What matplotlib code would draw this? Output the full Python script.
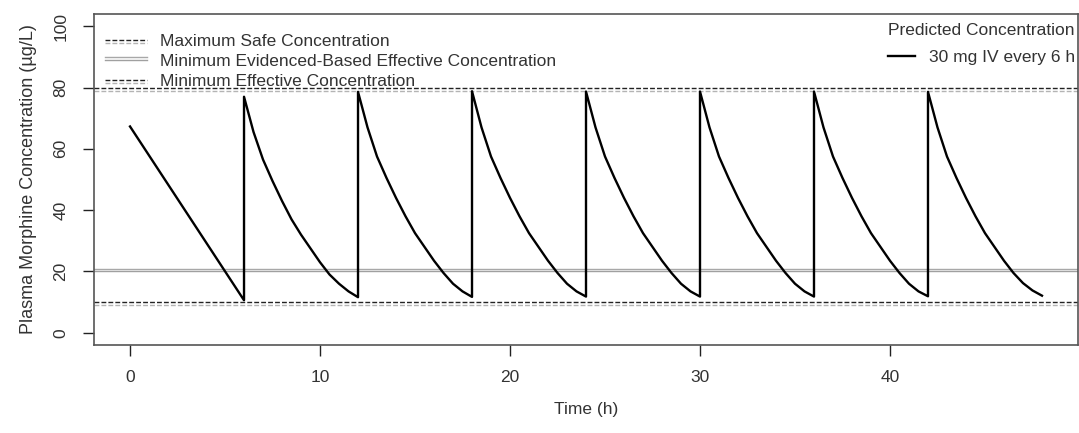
import matplotlib
matplotlib.use("Agg")
import matplotlib.pyplot as plt
import matplotlib.patheffects as pe

plt.rcParams['font.family'] = ['Liberation Sans', 'DejaVu Sans']

# ---- data ----
time_h = [0, 6,
          6, 6.5, 7, 7.5, 8, 8.5, 9, 9.5, 10, 10.5, 11, 11.5, 12,
          12, 12.5, 13, 13.5, 14, 14.5, 15, 15.5, 16, 16.5, 17, 17.5, 18,
          18, 18.5, 19, 19.5, 20, 20.5, 21, 21.5, 22, 22.5, 23, 23.5, 24,
          24, 24.5, 25, 25.5, 26, 26.5, 27, 27.5, 28, 28.5, 29, 29.5, 30,
          30, 30.5, 31, 31.5, 32, 32.5, 33, 33.5, 34, 34.5, 35, 35.5, 36,
          36, 36.5, 37, 37.5, 38, 38.5, 39, 39.5, 40, 40.5, 41, 41.5, 42,
          42, 42.5, 43, 43.5, 44, 44.5, 45, 45.5, 46, 46.5, 47, 47.5, 48]
conc = [67.3, 10.6,
        77.0, 65.5, 56.5, 49.5, 43.0, 37.0, 32.0, 27.5, 23.0, 19.0, 16.0, 13.5, 11.6,
        78.6, 67.0, 57.5, 50.5, 44.0, 38.0, 32.5, 28.0, 23.5, 19.5, 16.0, 13.5, 11.7,
        78.8, 67.0, 57.5, 50.5, 44.0, 38.0, 32.5, 28.0, 23.5, 19.5, 16.0, 13.5, 11.8,
        78.7, 67.0, 57.5, 50.5, 44.0, 38.0, 32.5, 28.0, 23.5, 19.5, 16.0, 13.5, 11.8,
        78.7, 67.0, 57.5, 50.5, 44.0, 38.0, 32.5, 28.0, 23.5, 19.5, 16.0, 13.5, 11.8,
        78.7, 67.0, 57.5, 50.5, 44.0, 38.0, 32.5, 28.0, 23.5, 19.5, 16.0, 13.5, 11.9,
        78.6, 67.0, 57.5, 50.5, 44.0, 38.0, 32.5, 28.0, 23.5, 19.5, 16.2, 13.8, 12.1]

max_safe = 80
min_evidence = 20
min_effective = 10

x_ticks = [0, 10, 20, 30, 40]
y_ticks = [0, 20, 40, 60, 80, 100]

label_max = "Maximum Safe Concentration"
label_evid = "Minimum Evidenced-Based Effective Concentration"
label_eff = "Minimum Effective Concentration"
label_series = "30 mg IV every 6 h"

# ---- figure ----
fig = plt.figure(figsize=(10.79, 4.33), dpi=100)
ax = fig.add_axes([0.0867, 0.2032, 0.9128, 0.7645])

shadow_down = [pe.SimpleLineShadow(offset=(0, -2.2), shadow_color='#b4b4b4', alpha=1, rho=1), pe.Normal()]
shadow_up = [pe.SimpleLineShadow(offset=(0, 2.0), shadow_color='#a8a8a8', alpha=1, rho=1), pe.Normal()]

h1 = ax.axhline(max_safe, color='#222222', lw=1.0, ls=(0, (3.5, 1.5)), path_effects=shadow_down, label=label_max)
h2 = ax.axhline(min_evidence, color='#a0a0a0', lw=1.0, ls='-', path_effects=shadow_up, label=label_evid)
h3 = ax.axhline(min_effective, color='#222222', lw=1.0, ls=(0, (3.5, 1.5)), path_effects=shadow_down, label=label_eff)

line, = ax.plot(time_h, conc, color='black', lw=1.7, label=label_series, solid_joinstyle='round')

ax.set_xlim(-1.92, 49.92)
ax.set_ylim(-4, 104)
ax.set_xticks(x_ticks)
ax.set_yticks(y_ticks)
ax.tick_params(axis='both', direction='out', length=8, width=1.0, color='#222222',
               labelsize=12.5, pad=10, labelcolor='#333333')
ax.tick_params(axis='y', labelrotation=90)
for lab in ax.get_yticklabels():
    lab.set_va('center')
for s in ax.spines.values():
    s.set_color('#555555')
    s.set_linewidth(1.2)

ax.set_xlabel("Time (h)", fontsize=12.5, color='#333333', labelpad=12)
ax.set_ylabel("Plasma Morphine Concentration (\u00b5g/L)", fontsize=13, color='#333333', labelpad=12)

leg1 = ax.legend(handles=[h1, h2, h3], loc='upper left', bbox_to_anchor=(0.005, 0.962),
                 frameon=False, fontsize=12.5, handlelength=2.4, handletextpad=0.75,
                 labelspacing=0.3, borderaxespad=0)
for t in leg1.get_texts():
    t.set_color('#333333')
ax.add_artist(leg1)
leg2 = ax.legend(handles=[line], loc='upper right', bbox_to_anchor=(1.004, 0.995),
                 frameon=False, fontsize=12.5, title="Predicted Concentration",
                 title_fontsize=12.5, handlelength=1.6, handletextpad=0.8, borderaxespad=0,
                 labelspacing=0.3)
leg2._legend_box.sep = 9
leg2.get_title().set_color('#333333')
for t in leg2.get_texts():
    t.set_color('#333333')

fig.savefig("out.png", dpi=100)
